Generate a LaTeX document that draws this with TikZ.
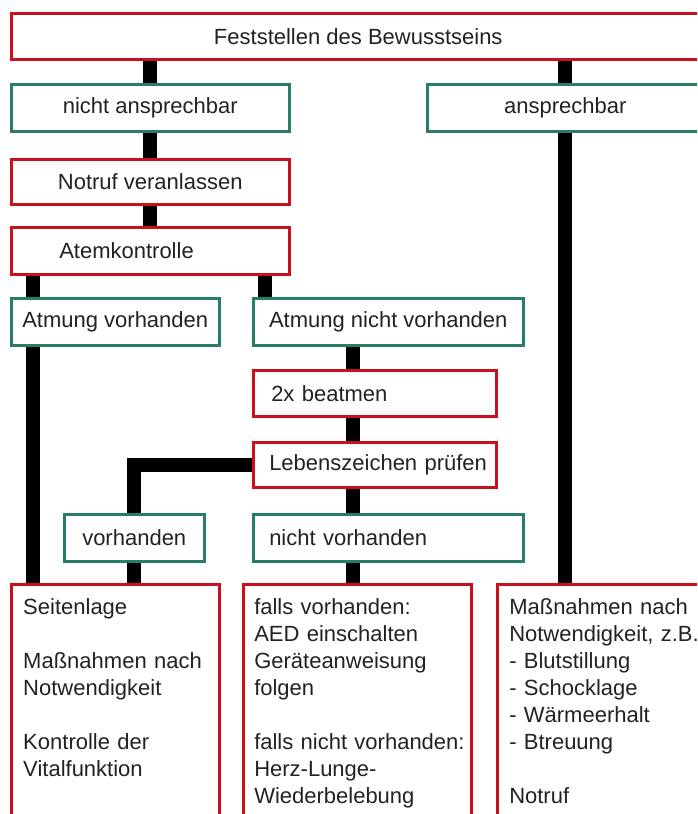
\documentclass[tikz,border=0pt]{standalone}
\usepackage{fontspec}
\setmainfont{Liberation Sans}
\usepackage{tikz}
\usetikzlibrary{calc,positioning}

\definecolor{boxred}{RGB}{200,16,30}
\definecolor{boxgreen}{RGB}{40,125,105}
\definecolor{textgray}{RGB}{34,34,34}

\pgfdeclarelayer{background}
\pgfsetlayers{background,main}

\tikzset{
  redbox/.style={draw=boxred, line width=2.5pt, fill=white, anchor=north west, inner sep=0pt, minimum height=46pt, text=textgray},
  greenbox/.style={draw=boxgreen, line width=2.5pt, fill=white, anchor=north west, inner sep=0pt, minimum height=46pt, text=textgray},
  infobox/.style={redbox, align=left, inner ysep=14pt, text depth=240pt},
  link/.style={line width=14pt, draw=black},
}

\begin{document}
\begin{tikzpicture}[x=1pt,y=-1pt,font=\fontsize{22}{27}\selectfont]
        \useasboundingbox (0,0) rectangle (697,814);
        \clip (0,0) rectangle (697,814);

        \node[redbox, minimum width=694pt] (bew) at (10,12) {Feststellen des Bewusstseins};
        \node[greenbox, minimum width=278pt, minimum height=47pt] (nab) at (10,83) {nicht ansprechbar};
        \node[greenbox, minimum width=276pt, minimum height=47pt] (ab) at (426,83) {ansprechbar};
        \node[redbox, minimum width=278pt, minimum height=45pt] (notruf) at (10,158) {Notruf veranlassen};
        \node[redbox, text width=182pt, inner xsep=48pt, align=left, minimum height=47pt] (atem) at (10,226) {Atemkontrolle};
        \node[greenbox, minimum width=208pt, minimum height=47pt] (atv) at (10,297) {Atmung vorhanden};
        \node[greenbox, minimum width=270pt, minimum height=47pt] (atnv) at (252,297) {Atmung nicht vorhanden};
        \node[redbox, text width=207pt, inner xsep=18pt, align=left] (beat) at (252,369) {2x beatmen};
        \node[redbox, text width=211pt, inner xsep=16pt, align=left, minimum height=45pt] (leb) at (252,441) {\mbox{Lebenszeichen prüfen}};
        \node[greenbox, minimum width=140pt, minimum height=47pt] (vor) at (63,513) {vorhanden};
        \node[greenbox, text width=238pt, inner xsep=16pt, align=left, minimum height=47pt] (nvor) at (252,513) {nicht vorhanden};

        \node[infobox, text width=184pt, inner xsep=12pt] (lage) at (10,583) {Seitenlage\\[27pt]Maßnahmen nach\\Notwendigkeit\\[27pt]Kontrolle der\\Vitalfunktion};
        \node[infobox, text width=206pt, inner xsep=11pt] (aed) at (242,583) {falls vorhanden:\\AED einschalten\\Geräteanweisung\\folgen\\[27pt]\mbox{falls nicht vorhanden:}\\Herz-Lunge-\\Wiederbelebung};
        \node[infobox, text width=220pt, inner xsep=12pt] (mass) at (496,583) {Maßnahmen nach\\\mbox{Notwendigkeit, z.B.}\\- Blutstillung\\- Schocklage\\- Wärmeerhalt\\- Btreuung\\[27pt]Notruf};

        \begin{pgfonlayer}{background}
        \draw[link] (bew.south -| nab.north) -- (nab.north);
        \draw[link] (bew.south -| ab.north) -- (ab.north);
        \draw[link] (nab.south) -- (notruf.north);
        \draw[link] (notruf.south) -- (atem.north);
        \draw[link] ([xshift=23pt]atem.south west) -- ([xshift=23pt]atv.north west);
        \draw[link] ([xshift=13pt]atem.south -| atnv.north west) -- ([xshift=13pt]atnv.north west);
        \draw[link] ([xshift=23pt]atv.south west) -- ([xshift=23pt]lage.north west);
        \draw[link] ([xshift=101pt]atnv.south west) -- ([xshift=101pt]beat.north west);
        \draw[link] ([xshift=101pt]beat.south west) -- ([xshift=101pt]leb.north west);
        \draw[link] ([xshift=101pt]leb.south west) -- ([xshift=101pt]nvor.north west);
        \draw[link] ([xshift=101pt]nvor.south west) -- ([xshift=111pt]aed.north west);
        \draw[link] (leb.west) -| (vor.north);
        \draw[link] (vor.south) -- (vor.south |- lage.north);
        \draw[link] (ab.south) -- (ab.south |- mass.north);
        \end{pgfonlayer}
    \end{tikzpicture}
\end{document}
